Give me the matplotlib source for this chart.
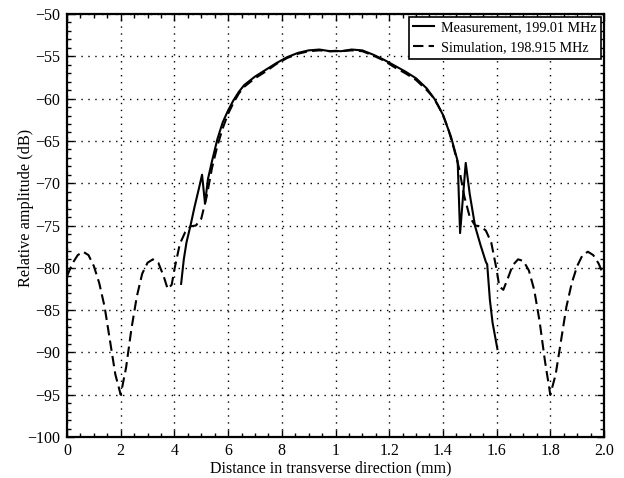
import matplotlib
matplotlib.use("Agg")
import matplotlib.pyplot as plt
from matplotlib.ticker import MultipleLocator

plt.rcParams['font.family'] = ['Liberation Serif', 'DejaVu Serif']
plt.rcParams['mathtext.fontset'] = 'stix'

# Simulation (dashed)
x_sim = [0.00, 0.02, 0.04, 0.06, 0.08, 0.10, 0.12, 0.14, 0.16, 0.18, 0.20,
         0.22, 0.24, 0.26, 0.28, 0.30, 0.32, 0.34, 0.36, 0.375, 0.39, 0.40,
         0.42, 0.44, 0.46, 0.48, 0.50, 0.52, 0.54, 0.56, 0.58, 0.60, 0.62,
         0.64, 0.66, 0.70, 0.74, 0.78, 0.82, 0.86, 0.90, 0.94, 0.98, 1.00,
         1.02, 1.06, 1.10, 1.14, 1.18, 1.22, 1.26, 1.30, 1.34, 1.36, 1.38,
         1.40, 1.42, 1.44, 1.46, 1.48, 1.50, 1.52, 1.54, 1.56, 1.58, 1.60,
         1.61, 1.625, 1.64, 1.66, 1.68, 1.70, 1.72, 1.74, 1.76, 1.78, 1.80,
         1.82, 1.84, 1.86, 1.88, 1.90, 1.92, 1.94, 1.96, 1.98, 2.00]
y_sim = [-81.0, -79.5, -78.5, -78.1, -78.5, -79.8, -81.8, -84.6, -88.6, -92.6, -95.0,
         -91.8, -87.2, -83.4, -80.7, -79.4, -79.0, -79.4, -81.0, -82.5, -82.0, -80.2,
         -77.2, -75.8, -75.1, -75.0, -74.2, -71.6, -68.2, -65.6, -63.5, -61.8, -60.5,
         -59.4, -58.6, -57.6, -56.8, -55.9, -55.2, -54.7, -54.4, -54.3, -54.4, -54.4,
         -54.4, -54.3, -54.4, -54.9, -55.5, -56.3, -57.0, -57.8, -59.0, -59.7, -60.7,
         -61.9, -63.6, -65.8, -68.2, -71.6, -74.0, -75.0, -75.1, -75.6, -77.0, -80.2,
         -82.2, -82.6, -81.4, -79.7, -79.0, -79.2, -80.3, -82.6, -86.3, -91.0, -95.0,
         -92.6, -88.6, -84.6, -81.8, -79.8, -78.5, -78.1, -78.5, -79.5, -81.0]

# Measurement (solid)
x_meas = [0.425, 0.435, 0.445, 0.46, 0.475, 0.49, 0.503, 0.514, 0.525, 0.54,
          0.56, 0.58, 0.60, 0.62, 0.64, 0.66, 0.70, 0.74, 0.78, 0.82, 0.86,
          0.90, 0.94, 0.98, 1.00, 1.02, 1.06, 1.10, 1.14, 1.18, 1.22, 1.26,
          1.30, 1.34, 1.37, 1.40, 1.43, 1.455, 1.464, 1.485, 1.50, 1.52, 1.54,
          1.56, 1.565, 1.575, 1.585, 1.603]
y_meas = [-81.9, -79.0, -77.0, -75.0, -72.8, -70.8, -69.0, -72.4, -69.5, -67.4,
          -64.8, -62.8, -61.4, -60.2, -59.2, -58.4, -57.4, -56.6, -55.8, -55.1, -54.6,
          -54.3, -54.2, -54.4, -54.35, -54.4, -54.2, -54.3, -54.8, -55.4, -56.1, -56.8,
          -57.6, -58.8, -60.1, -61.9, -64.5, -67.4, -75.9, -67.6, -71.3, -75.1, -77.3,
          -79.3, -79.6, -83.8, -86.5, -89.6]

x_ticks = [0.0, 0.2, 0.4, 0.6, 0.8, 1.0, 1.2, 1.4, 1.6, 1.8, 2.0]
x_tick_labels = ["0", "2", "4", "6", "8", "1", "1.2", "1.4", "1.6", "1.8", "2.0"]
y_ticks = [-100, -95, -90, -85, -80, -75, -70, -65, -60, -55, -50]

fig = plt.figure(figsize=(6.24, 4.78), dpi=100)
ax = fig.add_axes([67/624, 1-437/478, (604-67)/624, (437-14)/478])

ax.plot(x_meas, y_meas, color='black', lw=1.5, ls='-',
        label='Measurement, 199.01 MHz')
ax.plot(x_sim, y_sim, color='black', lw=1.5, ls=(0, (5, 2.5)),
        label='Simulation, 198.915 MHz')

ax.set_xlim(0, 2.0)
ax.set_ylim(-100, -50)
ax.set_xticks(x_ticks)
ax.set_xticklabels(x_tick_labels)
ax.set_yticks(y_ticks)
ax.xaxis.set_minor_locator(MultipleLocator(0.05))
ax.yaxis.set_minor_locator(MultipleLocator(1))
ax.tick_params(which='both', direction='in', top=True, right=True,
               labelsize=11.5, width=1.0, color='black')
ax.tick_params(which='major', length=5)
ax.tick_params(axis='x', which='major', pad=4)
ax.tick_params(axis='y', which='major', pad=5)
ax.tick_params(which='minor', length=3)
for s in ax.spines.values():
    s.set_linewidth(1.6)

ax.grid(True, which='major', color='black', ls=(0, (1, 4)), lw=1.0)

ax.set_xlabel('Distance in transverse direction (mm)', fontsize=11.5)
ax.set_ylabel('Relative amplitude (dB)', fontsize=11.7)
ax.xaxis.set_label_coords(0.4916, -0.055)
ax.yaxis.set_label_coords(-0.061, 0.541)

leg = ax.legend(loc='upper right', bbox_to_anchor=(0.9944, 0.993),
                fontsize=10.2, frameon=True, fancybox=False,
                edgecolor='black', framealpha=1, handlelength=1.45,
                borderaxespad=0.0, borderpad=0.3, labelspacing=0.5,
                handletextpad=0.5)
leg.get_frame().set_linewidth(1.2)

fig.savefig('out.png', dpi=100, facecolor='white')
